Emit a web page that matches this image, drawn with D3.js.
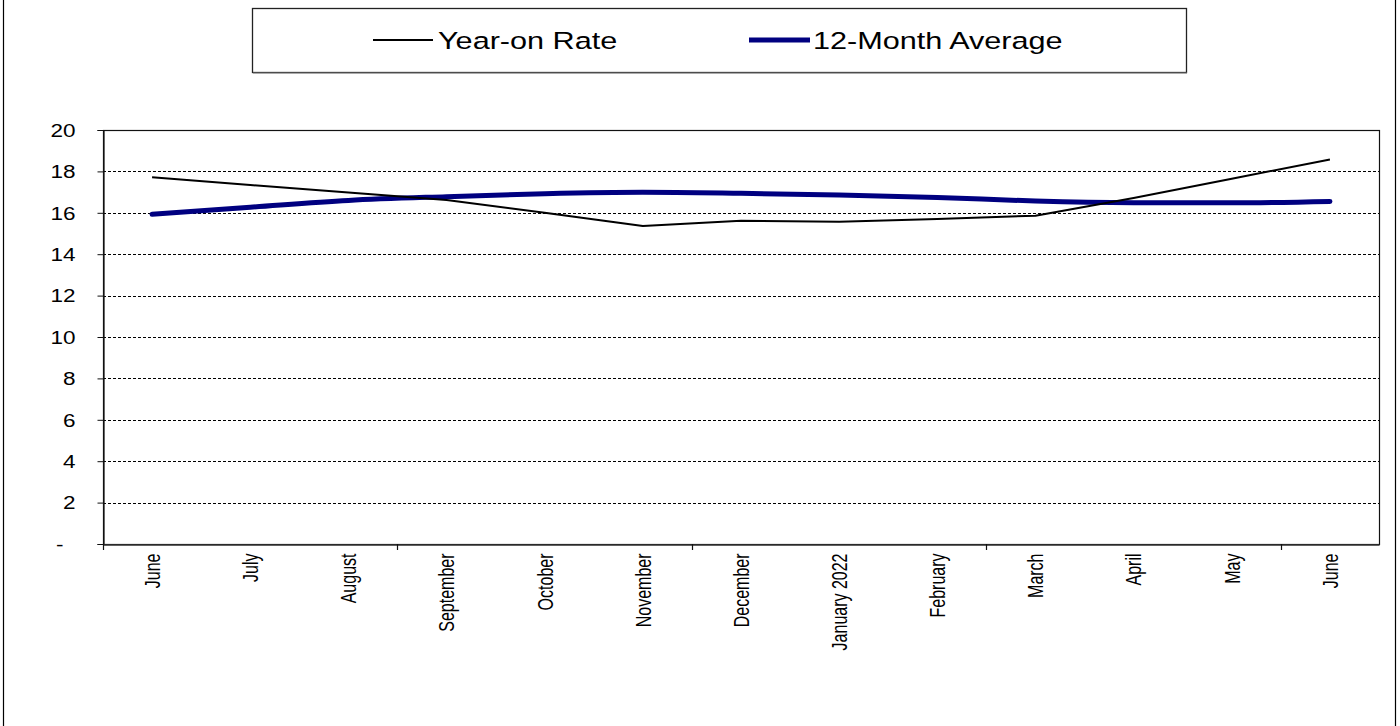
<!DOCTYPE html>
<html>
<head>
<meta charset="utf-8">
<script src="https://cdn.jsdelivr.net/npm/d3@7"></script>
<style>
  html, body { margin: 0; padding: 0; background: #fff; }
  svg { display: block; font-family: Arial, "Liberation Sans", sans-serif; }
</style>
</head>
<body>
<svg id="chart" width="1400" height="726"></svg>
<script>
// ---- data ----
const categories = ["June", "July", "August", "September", "October", "November", "December",
  "January 2022", "February", "March", "April", "May", "June"];
const yearOnRate = [17.72, 17.34, 16.98, 16.62, 16.0, 15.36, 15.62, 15.57, 15.7, 15.86, 16.72, 17.65, 18.58];
const twelveMonthAvg = [15.93, 16.27, 16.6, 16.78, 16.92, 16.99, 16.94, 16.86, 16.74, 16.57, 16.49, 16.48, 16.55];
const yTicks = [0, 2, 4, 6, 8, 10, 12, 14, 16, 18, 20];
const yTickLabels = ["-", "2", "4", "6", "8", "10", "12", "14", "16", "18", "20"];
const seriesNames = ["Year-on Rate", "12-Month Average"];

// ---- layout ----
const svg = d3.select("#chart");
const plot = { left: 103, right: 1379, top: 130, bottom: 544 };
const sx = 1.25; // horizontal text stretch seen in reference

const idx = categories.map((d, i) => i);
const x = d3.scaleBand().domain(idx).range([plot.left, plot.right]).padding(0);
const y = d3.scaleLinear().domain([0, 20]).range([plot.bottom, plot.top]);
const cx = i => x(i) + x.bandwidth() / 2;

// outer chart frame (left/right edges)
svg.append("line").attr("x1", 3.5).attr("x2", 3.5).attr("y1", 0).attr("y2", 726)
  .attr("stroke", "#000").attr("stroke-width", 1.2);
svg.append("line").attr("x1", 1395.5).attr("x2", 1395.5).attr("y1", 0).attr("y2", 726)
  .attr("stroke", "#000").attr("stroke-width", 1.2);

// gridlines
svg.append("g").selectAll("line")
  .data(yTicks.filter(d => d > 0 && d < 20))
  .join("line")
  .attr("x1", plot.left).attr("x2", plot.right)
  .attr("y1", d => Math.round(y(d)) + 0.5).attr("y2", d => Math.round(y(d)) + 0.5)
  .attr("stroke", "#000").attr("stroke-width", 1).attr("stroke-dasharray", "3,2");

// plot frame
svg.append("rect")
  .attr("x", plot.left + 0.5).attr("y", plot.top + 0.5)
  .attr("width", plot.right - plot.left).attr("height", plot.bottom - plot.top)
  .attr("fill", "none").attr("stroke", "#111").attr("stroke-width", 1.2);

// y axis
const yAxis = svg.append("g").attr("transform", `translate(${plot.left + 0.5},0)`)
  .call(d3.axisLeft(y).tickValues(yTicks).tickSize(6).tickFormat((d, i) => yTickLabels[i]));
yAxis.select(".domain").attr("stroke", "#111").attr("stroke-width", 1.2);
yAxis.selectAll(".tick line").attr("stroke", "#111");
yAxis.selectAll(".tick text")
  .attr("x", 0).attr("dy", "0.35em")
  .attr("text-anchor", "end")
  .attr("font-size", 18).attr("fill", "#000")
  .attr("font-family", "Arial, 'Liberation Sans', sans-serif")
  .attr("transform", (d) => `translate(${d === 0 ? -40 : -28},0) scale(${sx},1)`);

// x axis
const xAxis = svg.append("g").attr("transform", `translate(0,${plot.bottom + 0.5})`)
  .call(d3.axisBottom(x).tickSize(0).tickFormat(i => categories[i]));
xAxis.select(".domain").attr("stroke", "#333").attr("stroke-width", 1.5);
xAxis.selectAll(".tick text")
  .attr("x", 0).attr("y", 0).attr("dy", "0.35em")
  .attr("text-anchor", "end")
  .attr("font-size", 16).attr("fill", "#000")
  .attr("font-family", "Arial, 'Liberation Sans', sans-serif")
  .attr("transform", `translate(0,9) rotate(-90) scale(1,1.4)`);

// x tick marks every 3 categories (at band boundaries)
svg.append("g").selectAll("line")
  .data(idx.filter(i => i % 3 === 0))
  .join("line")
  .attr("x1", i => Math.round(x(i)) + 0.5).attr("x2", i => Math.round(x(i)) + 0.5)
  .attr("y1", plot.bottom).attr("y2", plot.bottom + 6)
  .attr("stroke", "#111").attr("stroke-width", 1.2);

// lines
svg.append("path").datum(twelveMonthAvg)
  .attr("d", d3.line().x((d, i) => cx(i)).y(d => y(d)).curve(d3.curveMonotoneX))
  .attr("fill", "none").attr("stroke", "#000080").attr("stroke-width", 5)
  .attr("stroke-linecap", "round").attr("stroke-linejoin", "round");
svg.append("path").datum(yearOnRate)
  .attr("d", d3.line().x((d, i) => cx(i)).y(d => y(d)))
  .attr("fill", "none").attr("stroke", "#000").attr("stroke-width", 2)
  .attr("stroke-linejoin", "round");

// legend
const legend = svg.append("g");
legend.append("rect").attr("x", 252.5).attr("y", 8.5).attr("width", 934).attr("height", 64)
  .attr("fill", "#fff").attr("stroke", "#222").attr("stroke-width", 1.3);
legend.append("line").attr("x1", 253).attr("x2", 1187).attr("y1", 73).attr("y2", 73)
  .attr("stroke", "#777").attr("stroke-width", 1);
const legendItems = [
  { name: seriesNames[0], color: "#000", width: 2, x0: 373, x1: 433, tx: 438 },
  { name: seriesNames[1], color: "#000080", width: 5, x0: 749, x1: 810, tx: 813 }
];
legendItems.forEach(it => {
  legend.append("line").attr("x1", it.x0).attr("x2", it.x1).attr("y1", 40).attr("y2", 40)
    .attr("stroke", it.color).attr("stroke-width", it.width);
  legend.append("text").text(it.name)
    .attr("x", 0).attr("y", 0)
    .attr("transform", `translate(${it.tx},49) scale(1.25,1)`)
    .attr("font-size", 24.5).attr("fill", "#000");
});
</script>
</body>
</html>
